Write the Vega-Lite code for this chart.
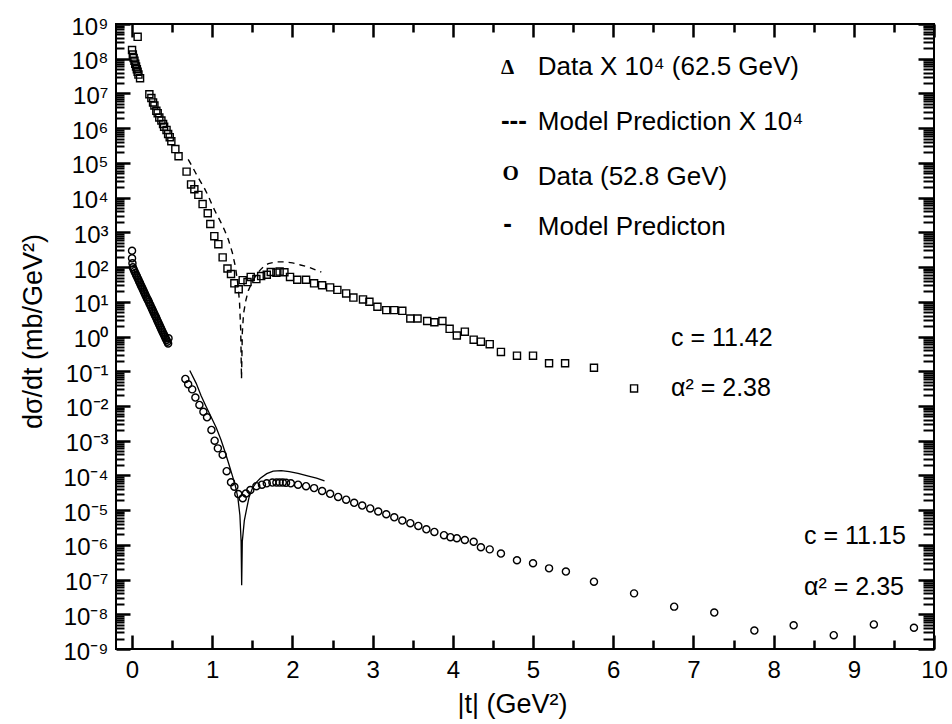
{
  "$schema": "https://vega.github.io/schema/vega-lite/v6.json",
  "width": 818,
  "height": 625,
  "autosize": "none",
  "padding": {"left": 116, "top": 24, "right": 18, "bottom": 75},
  "background": "white",
  "config": {
    "view": {"stroke": "black", "strokeWidth": 2},
    "font": "Liberation Sans",
    "axis": {"labelFont": "Liberation Sans", "titleFont": "Liberation Sans", "labelColor": "black", "titleColor": "black", "tickColor": "black", "grid": false, "domain": false, "labelOverlap": false, "labelBound": false, "labelFlush": false, "titleFontWeight": "normal", "tickCap": "butt"},
    "text": {"font": "Liberation Sans", "color": "black", "align": "left", "baseline": "alphabetic"}
  },
  "datasets": {
    "high": [
      {"t": 0.07, "v": 4.27e8},
      {"t": 0.0, "v": 1.78e8}, {"t": 0.01, "v": 1.32e8}, {"t": 0.02, "v": 1.05e8}, {"t": 0.03, "v": 8.7e7}, {"t": 0.04, "v": 7.2e7}, {"t": 0.05, "v": 6.0e7}, {"t": 0.06, "v": 5.0e7}, {"t": 0.07, "v": 4.2e7}, {"t": 0.08, "v": 3.5e7}, {"t": 0.10, "v": 2.75e7},
      {"t": 0.216, "v": 9.5e6}, {"t": 0.241, "v": 7.4e6}, {"t": 0.262, "v": 5.5e6}, {"t": 0.279, "v": 4.5e6}, {"t": 0.303, "v": 3.16e6}, {"t": 0.32, "v": 2.7e6}, {"t": 0.34, "v": 2.04e6}, {"t": 0.366, "v": 1.66e6}, {"t": 0.387, "v": 1.32e6}, {"t": 0.40, "v": 1.1e6}, {"t": 0.43, "v": 8.9e5}, {"t": 0.45, "v": 6.8e5}, {"t": 0.47, "v": 5.5e5}, {"t": 0.49, "v": 4.2e5}, {"t": 0.54, "v": 2.5e5}, {"t": 0.58, "v": 1.55e5},
      {"t": 0.68, "v": 5.6e4}, {"t": 0.736, "v": 2.4e4}, {"t": 0.777, "v": 1.74e4}, {"t": 0.827, "v": 1.2e4}, {"t": 0.88, "v": 6500}, {"t": 0.944, "v": 3550}, {"t": 0.976, "v": 1740}, {"t": 1.026, "v": 776}, {"t": 1.076, "v": 457}, {"t": 1.13, "v": 190}, {"t": 1.19, "v": 91}, {"t": 1.234, "v": 63}, {"t": 1.276, "v": 34}, {"t": 1.33, "v": 23},
      {"t": 1.38, "v": 42}, {"t": 1.44, "v": 37}, {"t": 1.48, "v": 52}, {"t": 1.55, "v": 45}, {"t": 1.61, "v": 55}, {"t": 1.68, "v": 60}, {"t": 1.73, "v": 72}, {"t": 1.80, "v": 69}, {"t": 1.84, "v": 74}, {"t": 1.90, "v": 71}, {"t": 1.97, "v": 52}, {"t": 2.06, "v": 43}, {"t": 2.17, "v": 43}, {"t": 2.27, "v": 34}, {"t": 2.37, "v": 30}, {"t": 2.47, "v": 26}, {"t": 2.56, "v": 22}, {"t": 2.67, "v": 17.4}, {"t": 2.76, "v": 13.2}, {"t": 2.88, "v": 11.7}, {"t": 2.96, "v": 10}, {"t": 3.06, "v": 7.2}, {"t": 3.17, "v": 5.75}, {"t": 3.27, "v": 5.75}, {"t": 3.37, "v": 5.5}, {"t": 3.47, "v": 3.3}, {"t": 3.56, "v": 3.3}, {"t": 3.68, "v": 2.8}, {"t": 3.77, "v": 2.57}, {"t": 3.87, "v": 2.8}, {"t": 3.96, "v": 1.66}, {"t": 4.05, "v": 1.07}, {"t": 4.15, "v": 1.38}, {"t": 4.26, "v": 0.81}, {"t": 4.35, "v": 0.71}, {"t": 4.46, "v": 0.60}, {"t": 4.60, "v": 0.36}, {"t": 4.80, "v": 0.28}, {"t": 5.00, "v": 0.28}, {"t": 5.20, "v": 0.17}, {"t": 5.40, "v": 0.17}, {"t": 5.76, "v": 0.126}, {"t": 6.26, "v": 0.032}
    ],
    "low": [
      {"t": 0.0, "v": 295}, {"t": 0.0, "v": 178}, {"t": 0.005, "v": 129},
      {"t": 0.01, "v": 98}, {"t": 0.02, "v": 86}, {"t": 0.03, "v": 76}, {"t": 0.04, "v": 68}, {"t": 0.05, "v": 60}, {"t": 0.06, "v": 54}, {"t": 0.07, "v": 48}, {"t": 0.08, "v": 43}, {"t": 0.09, "v": 38}, {"t": 0.10, "v": 34}, {"t": 0.11, "v": 30}, {"t": 0.12, "v": 27}, {"t": 0.13, "v": 24}, {"t": 0.14, "v": 21.4}, {"t": 0.15, "v": 19}, {"t": 0.16, "v": 17}, {"t": 0.17, "v": 15.1}, {"t": 0.18, "v": 13.5}, {"t": 0.19, "v": 12}, {"t": 0.20, "v": 11}, {"t": 0.21, "v": 9.8}, {"t": 0.22, "v": 8.7}, {"t": 0.23, "v": 7.8}, {"t": 0.24, "v": 6.9}, {"t": 0.25, "v": 6.2}, {"t": 0.26, "v": 5.5}, {"t": 0.27, "v": 4.9}, {"t": 0.28, "v": 4.4}, {"t": 0.29, "v": 3.9}, {"t": 0.30, "v": 3.5}, {"t": 0.31, "v": 3.1}, {"t": 0.32, "v": 2.75}, {"t": 0.33, "v": 2.45}, {"t": 0.34, "v": 2.19}, {"t": 0.35, "v": 1.95}, {"t": 0.36, "v": 1.74}, {"t": 0.37, "v": 1.55}, {"t": 0.38, "v": 1.38}, {"t": 0.39, "v": 1.23}, {"t": 0.40, "v": 1.10}, {"t": 0.41, "v": 0.98}, {"t": 0.42, "v": 0.87}, {"t": 0.43, "v": 0.79}, {"t": 0.44, "v": 0.71}, {"t": 0.45, "v": 0.63}, {"t": 0.455, "v": 0.89},
      {"t": 0.665, "v": 0.060}, {"t": 0.70, "v": 0.042}, {"t": 0.75, "v": 0.030}, {"t": 0.79, "v": 0.0174}, {"t": 0.84, "v": 0.0107}, {"t": 0.89, "v": 0.0068}, {"t": 0.935, "v": 0.0047}, {"t": 0.99, "v": 0.00204}, {"t": 1.03, "v": 0.0010}, {"t": 1.07, "v": 0.0006}, {"t": 1.13, "v": 0.00039}, {"t": 1.18, "v": 0.000132}, {"t": 1.234, "v": 6.3e-5}, {"t": 1.276, "v": 4.7e-5}, {"t": 1.325, "v": 2.9e-5}, {"t": 1.38, "v": 2.2e-5}, {"t": 1.42, "v": 3.0e-5}, {"t": 1.475, "v": 3.8e-5}, {"t": 1.55, "v": 4.9e-5}, {"t": 1.62, "v": 5.4e-5}, {"t": 1.68, "v": 5.9e-5}, {"t": 1.75, "v": 6.2e-5}, {"t": 1.80, "v": 6.2e-5}, {"t": 1.84, "v": 6.2e-5}, {"t": 1.88, "v": 6.2e-5}, {"t": 1.92, "v": 6.1e-5}, {"t": 1.98, "v": 5.9e-5}, {"t": 2.07, "v": 5.4e-5}, {"t": 2.17, "v": 4.9e-5}, {"t": 2.27, "v": 4.3e-5},
      {"t": 2.37, "v": 3.55e-5}, {"t": 2.47, "v": 2.95e-5}, {"t": 2.57, "v": 2.4e-5}, {"t": 2.67, "v": 2.0e-5}, {"t": 2.77, "v": 1.62e-5}, {"t": 2.87, "v": 1.35e-5}, {"t": 2.97, "v": 1.12e-5}, {"t": 3.07, "v": 9.1e-6}, {"t": 3.17, "v": 7.6e-6}, {"t": 3.27, "v": 6.2e-6}, {"t": 3.37, "v": 5.0e-6}, {"t": 3.47, "v": 4.2e-6}, {"t": 3.57, "v": 3.5e-6}, {"t": 3.67, "v": 2.8e-6}, {"t": 3.77, "v": 2.35e-6}, {"t": 3.89, "v": 1.9e-6}, {"t": 3.97, "v": 1.66e-6}, {"t": 4.05, "v": 1.55e-6}, {"t": 4.15, "v": 1.38e-6}, {"t": 4.26, "v": 1.23e-6}, {"t": 4.35, "v": 8.5e-7}, {"t": 4.46, "v": 7.4e-7}, {"t": 4.60, "v": 5.6e-7}, {"t": 4.80, "v": 3.6e-7}, {"t": 5.00, "v": 2.95e-7}, {"t": 5.20, "v": 2.1e-7}, {"t": 5.41, "v": 1.7e-7}, {"t": 5.76, "v": 8.7e-8}, {"t": 6.26, "v": 4.0e-8}, {"t": 6.76, "v": 1.66e-8}, {"t": 7.26, "v": 1.12e-8}, {"t": 7.76, "v": 3.4e-9}, {"t": 8.25, "v": 4.8e-9}, {"t": 8.75, "v": 2.5e-9}, {"t": 9.25, "v": 5.1e-9}, {"t": 9.75, "v": 4.1e-9}
    ],
    "modelHigh": [
      {"t": 0.70, "v": 1.26e5}, {"t": 0.75, "v": 7.9e4}, {"t": 0.80, "v": 4.8e4}, {"t": 0.85, "v": 3.0e4}, {"t": 0.90, "v": 1.9e4}, {"t": 0.95, "v": 1.12e4}, {"t": 1.00, "v": 6000}, {"t": 1.05, "v": 3500}, {"t": 1.10, "v": 2100}, {"t": 1.15, "v": 1200}, {"t": 1.20, "v": 631}, {"t": 1.25, "v": 263}, {"t": 1.29, "v": 100}, {"t": 1.32, "v": 31.6}, {"t": 1.34, "v": 10}, {"t": 1.355, "v": 1.58}, {"t": 1.365, "v": 0.060}, {"t": 1.375, "v": 1.26}, {"t": 1.39, "v": 4.5}, {"t": 1.42, "v": 11.2}, {"t": 1.45, "v": 21}, {"t": 1.50, "v": 38}, {"t": 1.55, "v": 60}, {"t": 1.60, "v": 83}, {"t": 1.65, "v": 107}, {"t": 1.70, "v": 126}, {"t": 1.80, "v": 141}, {"t": 1.90, "v": 141}, {"t": 2.00, "v": 132}, {"t": 2.10, "v": 115}, {"t": 2.20, "v": 100}, {"t": 2.30, "v": 81}, {"t": 2.36, "v": 72}
    ],
    "modelLow": [
      {"t": 0.72, "v": 0.105}, {"t": 0.80, "v": 0.0447}, {"t": 0.86, "v": 0.020}, {"t": 0.92, "v": 0.010}, {"t": 0.985, "v": 0.0049}, {"t": 1.05, "v": 0.00234}, {"t": 1.11, "v": 0.00105}, {"t": 1.16, "v": 0.00047}, {"t": 1.20, "v": 0.00024}, {"t": 1.25, "v": 0.0001}, {"t": 1.29, "v": 4.8e-5}, {"t": 1.32, "v": 2.24e-5}, {"t": 1.345, "v": 7.1e-6}, {"t": 1.36, "v": 1.26e-6}, {"t": 1.367, "v": 6.9e-8}, {"t": 1.375, "v": 1.26e-6}, {"t": 1.40, "v": 5.0e-6}, {"t": 1.43, "v": 1.12e-5}, {"t": 1.46, "v": 2.4e-5}, {"t": 1.50, "v": 4.2e-5}, {"t": 1.55, "v": 6.3e-5}, {"t": 1.60, "v": 8.3e-5}, {"t": 1.68, "v": 0.000112}, {"t": 1.76, "v": 0.000132}, {"t": 1.86, "v": 0.000138}, {"t": 1.96, "v": 0.000129}, {"t": 2.07, "v": 0.000115}, {"t": 2.20, "v": 9.5e-5}, {"t": 2.30, "v": 8.3e-5}, {"t": 2.40, "v": 6.9e-5}
    ],
    "notes": [
      {"t": 6.72, "v": 0.53, "label": "c = 11.42"},
      {"t": 6.72, "v": 0.0193, "label": "α² = 2.38"},
      {"t": 8.38, "v": 1.05e-6, "label": "c = 11.15"},
      {"t": 8.38, "v": 3.58e-8, "label": "α² = 2.35"}
    ],
    "legendText": [
      {"t": 5.06, "v": 3.4e7, "label": "Data X 10⁴ (62.5 GeV)"},
      {"t": 5.06, "v": 8.85e5, "label": "Model Prediction X 10⁴"},
      {"t": 5.06, "v": 2.31e4, "label": "Data (52.8 GeV)"},
      {"t": 5.06, "v": 838, "label": "Model Predicton"}
    ],
    "legendSerif": [
      {"t": 4.6, "v": 3.6e7, "label": "Δ"},
      {"t": 4.62, "v": 3.2e4, "label": "O"}
    ],
    "legendDash": [
      {"t": 4.6, "v": 9.5e5, "label": "---"},
      {"t": 4.63, "v": 1020, "label": "-"}
    ]
  },
  "resolve": {"axis": {"x": "independent", "y": "independent"}},
  "layer": [
    {
      "data": {"name": "high"},
      "mark": {"type": "point", "shape": "square", "filled": false, "stroke": "black", "strokeWidth": 1.4, "size": 50, "opacity": 1},
      "encoding": {
        "x": {"field": "t", "type": "quantitative", "scale": {"domain": [-0.2, 10], "nice": false, "zero": false},
          "axis": {"orient": "bottom", "offset": -14, "values": [0,1,2,3,4,5,6,7,8,9,10], "labelExpr": "'' + datum.value", "tickSize": 14, "tickWidth": 2.5, "labelFontSize": 24, "labelPadding": 9, "title": "|t| (GeV²)", "titleFontSize": 27, "titleX": 396, "titleY": 77, "titleBaseline": "alphabetic", "titleAnchor": "middle"}},
        "y": {"field": "v", "type": "quantitative", "scale": {"type": "log", "domain": [1e-9, 1e9], "nice": false},
          "axis": {"orient": "left", "offset": -14, "values": [1e-9,1e-8,1e-7,1e-6,1e-5,1e-4,1e-3,1e-2,1e-1,1,10,100,1000,1e4,1e5,1e6,1e7,1e8,1e9],
            "labelExpr": "'10' + ['⁻⁹','⁻⁸','⁻⁷','⁻⁶','⁻⁵','⁻⁴','⁻³','⁻²','⁻¹','⁰','¹','²','³','⁴','⁵','⁶','⁷','⁸','⁹'][round(log(datum.value)/LN10)+9]",
            "tickSize": 14, "tickWidth": 2.5, "labelFontSize": 24, "labelPadding": 8, "labelBaseline": "alphabetic", "labelOffset": 10,
            "title": "dσ/dt (mb/GeV²)", "titleFontSize": 27, "titleAngle": 270, "titleX": -97, "titleY": 307, "titleBaseline": "middle", "titleAlign": "center"}}
      }
    },
    {
      "data": {"name": "low"},
      "mark": {"type": "point", "shape": "circle", "filled": false, "stroke": "black", "strokeWidth": 1.4, "size": 50, "opacity": 1},
      "encoding": {
        "x": {"field": "t", "type": "quantitative", "scale": {"domain": [-0.2, 10], "nice": false, "zero": false},
          "axis": {"orient": "bottom", "offset": -9, "values": [0.5,1.5,2.5,3.5,4.5,5.5,6.5,7.5,8.5,9.5], "labels": false, "tickSize": 9, "tickWidth": 2.5, "title": null}},
        "y": {"field": "v", "type": "quantitative", "scale": {"type": "log", "domain": [1e-9, 1e9], "nice": false},
          "axis": {"orient": "left", "offset": -8, "labels": false, "title": null, "tickSize": 8, "tickWidth": 2,
            "values": [2e-9,3e-9,4e-9,5e-9,6e-9,7e-9,8e-9,9e-9,2e-8,3e-8,4e-8,5e-8,6e-8,7e-8,8e-8,9e-8,2e-7,3e-7,4e-7,5e-7,6e-7,7e-7,8e-7,9e-7,2e-6,3e-6,4e-6,5e-6,6e-6,7e-6,8e-6,9e-6,2e-5,3e-5,4e-5,5e-5,6e-5,7e-5,8e-5,9e-5,2e-4,3e-4,4e-4,5e-4,6e-4,7e-4,8e-4,9e-4,0.002,0.003,0.004,0.005,0.006,0.007,0.008,0.009,0.02,0.03,0.04,0.05,0.06,0.07,0.08,0.09,0.2,0.3,0.4,0.5,0.6,0.7,0.8,0.9,2,3,4,5,6,7,8,9,20,30,40,50,60,70,80,90,200,300,400,500,600,700,800,900,2000,3000,4000,5000,6000,7000,8000,9000,2e4,3e4,4e4,5e4,6e4,7e4,8e4,9e4,2e5,3e5,4e5,5e5,6e5,7e5,8e5,9e5,2e6,3e6,4e6,5e6,6e6,7e6,8e6,9e6,2e7,3e7,4e7,5e7,6e7,7e7,8e7,9e7,2e8,3e8,4e8,5e8,6e8,7e8,8e8,9e8]}}
      }
    },
    {
      "data": {"name": "modelHigh"},
      "mark": {"type": "line", "stroke": "black", "strokeWidth": 1.4, "strokeDash": [6, 5]},
      "encoding": {
        "x": {"field": "t", "type": "quantitative", "scale": {"domain": [-0.2, 10], "nice": false, "zero": false},
          "axis": {"orient": "top", "offset": -13, "values": [0,1,2,3,4,5,6,7,8,9,10], "labels": false, "tickSize": 13, "tickWidth": 2.5, "title": null}},
        "y": {"field": "v", "type": "quantitative", "scale": {"type": "log", "domain": [1e-9, 1e9], "nice": false},
          "axis": {"orient": "right", "offset": -16, "values": [1e-9,1e-8,1e-7,1e-6,1e-5,1e-4,1e-3,1e-2,1e-1,1,10,100,1000,1e4,1e5,1e6,1e7,1e8,1e9], "labels": false, "tickSize": 16, "tickWidth": 2.5, "title": null}}
      }
    },
    {
      "data": {"name": "modelLow"},
      "mark": {"type": "line", "stroke": "black", "strokeWidth": 1.3},
      "encoding": {
        "x": {"field": "t", "type": "quantitative", "scale": {"domain": [-0.2, 10], "nice": false, "zero": false},
          "axis": {"orient": "top", "offset": -8, "values": [0.5,1.5,2.5,3.5,4.5,5.5,6.5,7.5,8.5,9.5], "labels": false, "tickSize": 8, "tickWidth": 2.5, "title": null}},
        "y": {"field": "v", "type": "quantitative", "scale": {"type": "log", "domain": [1e-9, 1e9], "nice": false},
          "axis": {"orient": "right", "offset": -11, "labels": false, "title": null, "tickSize": 11, "tickWidth": 2,
            "values": [2e-9,3e-9,4e-9,5e-9,6e-9,7e-9,8e-9,9e-9,2e-8,3e-8,4e-8,5e-8,6e-8,7e-8,8e-8,9e-8,2e-7,3e-7,4e-7,5e-7,6e-7,7e-7,8e-7,9e-7,2e-6,3e-6,4e-6,5e-6,6e-6,7e-6,8e-6,9e-6,2e-5,3e-5,4e-5,5e-5,6e-5,7e-5,8e-5,9e-5,2e-4,3e-4,4e-4,5e-4,6e-4,7e-4,8e-4,9e-4,0.002,0.003,0.004,0.005,0.006,0.007,0.008,0.009,0.02,0.03,0.04,0.05,0.06,0.07,0.08,0.09,0.2,0.3,0.4,0.5,0.6,0.7,0.8,0.9,2,3,4,5,6,7,8,9,20,30,40,50,60,70,80,90,200,300,400,500,600,700,800,900,2000,3000,4000,5000,6000,7000,8000,9000,2e4,3e4,4e4,5e4,6e4,7e4,8e4,9e4,2e5,3e5,4e5,5e5,6e5,7e5,8e5,9e5,2e6,3e6,4e6,5e6,6e6,7e6,8e6,9e6,2e7,3e7,4e7,5e7,6e7,7e7,8e7,9e7,2e8,3e8,4e8,5e8,6e8,7e8,8e8,9e8]}}
      }
    },
    {
      "data": {"name": "notes"},
      "mark": {"type": "text", "fontSize": 25, "align": "left", "baseline": "alphabetic"},
      "encoding": {
        "x": {"field": "t", "type": "quantitative", "axis": null},
        "y": {"field": "v", "type": "quantitative", "axis": null},
        "text": {"field": "label"}
      }
    },
    {
      "data": {"name": "legendText"},
      "mark": {"type": "text", "fontSize": 26, "align": "left", "baseline": "alphabetic"},
      "encoding": {
        "x": {"field": "t", "type": "quantitative", "axis": null},
        "y": {"field": "v", "type": "quantitative", "axis": null},
        "text": {"field": "label"}
      }
    },
    {
      "data": {"name": "legendSerif"},
      "mark": {"type": "text", "fontSize": 21, "font": "Liberation Serif", "fontWeight": "bold", "align": "left", "baseline": "alphabetic"},
      "encoding": {
        "x": {"field": "t", "type": "quantitative", "axis": null},
        "y": {"field": "v", "type": "quantitative", "axis": null},
        "text": {"field": "label"}
      }
    },
    {
      "data": {"name": "legendDash"},
      "mark": {"type": "text", "fontSize": 26, "font": "Liberation Sans", "fontWeight": "bold", "align": "left", "baseline": "alphabetic"},
      "encoding": {
        "x": {"field": "t", "type": "quantitative", "axis": null},
        "y": {"field": "v", "type": "quantitative", "axis": null},
        "text": {"field": "label"}
      }
    }
  ]
}
